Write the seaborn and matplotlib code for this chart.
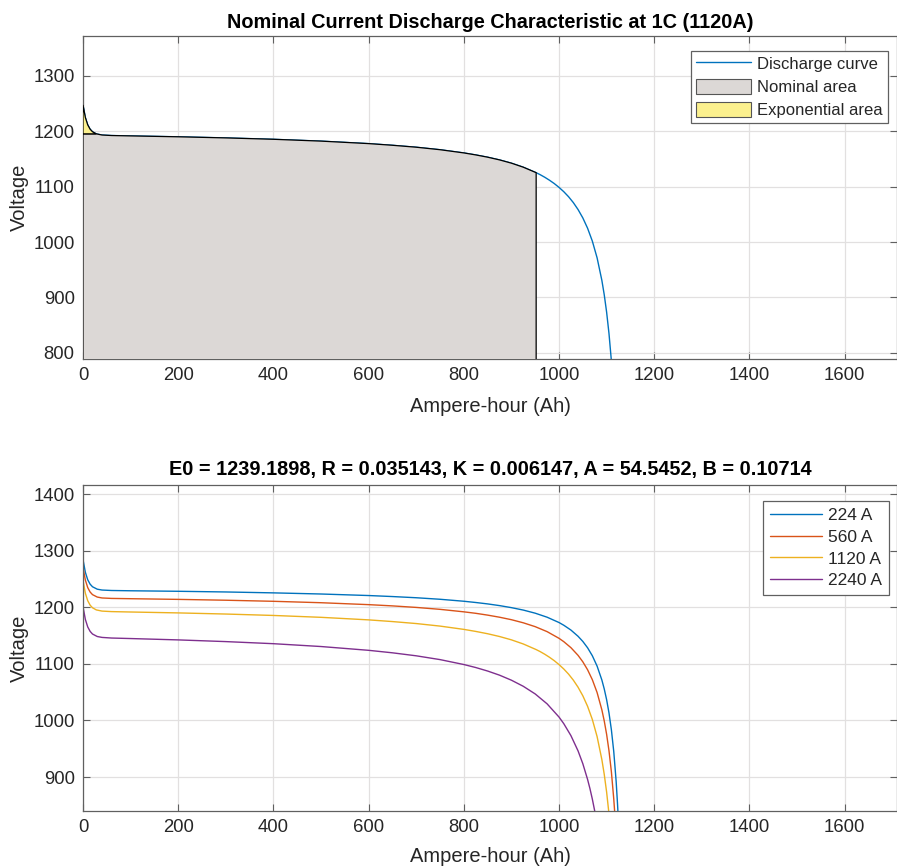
import numpy as np
import pandas as pd
import matplotlib
matplotlib.use("Agg")
import matplotlib.pyplot as plt
from matplotlib.lines import Line2D
from matplotlib.patches import Patch
import seaborn as sns

# ---------------- data ----------------
ah_224 = [0, 5, 10, 15, 20, 30, 40, 60, 100, 200, 300, 400, 500, 600, 650, 700, 750, 800, 825, 850,
          875, 900, 925, 950, 975, 1000, 1010, 1025, 1040, 1050, 1060, 1070, 1080, 1090, 1095, 1100,
          1105, 1110, 1115, 1120, 1123, 1124]
v_224 = [1284.5, 1261.8, 1248.5, 1240.8, 1236.2, 1231.9, 1230.4, 1229.6, 1229.1, 1228.2, 1227.0,
         1225.4, 1223.4, 1220.7, 1218.9, 1216.8, 1214.1, 1210.6, 1208.4, 1205.9, 1202.9, 1199.3,
         1195.0, 1189.5, 1182.4, 1173.0, 1168.2, 1159.7, 1148.7, 1139.6, 1128.4, 1114.3, 1096.0,
         1071.5, 1055.7, 1036.7, 1013.2, 983.6, 945.0, 892.6, 851.1, 834.9]

ah_560 = [0, 5, 10, 15, 20, 30, 40, 60, 100, 200, 300, 400, 500, 600, 650, 700, 750, 800, 825, 850,
          875, 900, 925, 950, 975, 1000, 1010, 1025, 1040, 1050, 1060, 1070, 1080, 1090, 1095, 1100,
          1105, 1110, 1115, 1117]
v_560 = [1270.6, 1248.0, 1234.7, 1226.9, 1222.3, 1218.0, 1216.4, 1215.6, 1215.1, 1213.9, 1212.4,
         1210.5, 1208.0, 1204.6, 1202.4, 1199.7, 1196.3, 1191.9, 1189.3, 1186.1, 1182.4, 1178.0,
         1172.5, 1165.7, 1156.9, 1145.1, 1139.2, 1128.6, 1115.0, 1103.6, 1089.6, 1072.0, 1049.3,
         1018.8, 999.2, 975.5, 946.3, 909.4, 861.3, 837.8]

ah_1120 = [0, 5, 10, 15, 20, 28, 40, 60, 100, 200, 300, 400, 500, 600, 650, 700, 750, 800, 825, 850,
           875, 900, 925, 952, 960, 970, 980, 990, 1000, 1010, 1020, 1030, 1040, 1050, 1060, 1070,
           1080, 1090, 1095, 1100, 1105, 1110]
v_1120 = [1247.5, 1224.8, 1211.5, 1203.7, 1199.1, 1195.3, 1193.2, 1192.3, 1191.6, 1190.0, 1188.0,
          1185.5, 1182.2, 1177.7, 1174.7, 1171.2, 1166.7, 1160.9, 1157.3, 1153.2, 1148.3, 1142.4,
          1135.1, 1125.2, 1121.8, 1117.0, 1111.6, 1105.6, 1098.7, 1090.9, 1081.9, 1071.3, 1058.7,
          1043.6, 1025.0, 1001.7, 971.5, 930.9, 904.9, 873.5, 834.7, 785.7]

ah_2240 = [0, 5, 10, 15, 20, 30, 40, 60, 100, 200, 300, 400, 500, 600, 650, 700, 750, 800, 825, 850,
           875, 900, 925, 950, 975, 1000, 1010, 1025, 1040, 1050, 1060, 1065, 1070, 1075, 1080]
v_2240 = [1201.2, 1178.5, 1165.2, 1157.4, 1152.7, 1148.3, 1146.7, 1145.6, 1144.7, 1142.3, 1139.3,
          1135.6, 1130.6, 1123.9, 1119.5, 1114.2, 1107.5, 1098.8, 1093.5, 1087.3, 1080.0, 1071.1,
          1060.3, 1046.8, 1029.3, 1006.0, 994.3, 973.2, 946.2, 923.6, 895.8, 879.5, 861.0, 840.0,
          815.9]

currents = ["224 A", "560 A", "1120 A", "2240 A"]
q_exp = 28      # end of exponential zone (Ah)
q_nom = 952     # end of nominal zone (Ah)

top_title = "Nominal Current Discharge Characteristic at 1C (1120A)"
bot_title = "E0 = 1239.1898, R = 0.035143, K = 0.006147, A = 54.5452, B = 0.10714"
xticks = [0, 200, 400, 600, 800, 1000, 1200, 1400, 1600]
top_yticks = [800, 900, 1000, 1100, 1200, 1300]
bot_yticks = [900, 1000, 1100, 1200, 1300, 1400]

# ---------------- style ----------------
sns.set_theme(style="whitegrid")
plt.rcParams["font.family"] = ["Liberation Sans", "DejaVu Sans"]
TXT = "#262626"
SPINE = "#606060"
GRID = "#e2e0e0"
colors = ["#0072BD", "#D95319", "#EDB120", "#7E2F8E"]
NOM_C = "#dcd8d6"
EXP_C = "#fbf08e"
plt.rcParams.update({
    "axes.edgecolor": SPINE, "axes.linewidth": 0.9,
    "xtick.color": SPINE, "ytick.color": SPINE,
    "xtick.labelcolor": TXT, "ytick.labelcolor": TXT,
    "xtick.direction": "in", "ytick.direction": "in",
    "xtick.major.size": 5, "ytick.major.size": 5,
    "xtick.major.width": 0.8, "ytick.major.width": 0.8,
    "xtick.top": True, "ytick.right": True,
    "xtick.bottom": True, "ytick.left": True,
    "grid.color": GRID, "grid.linewidth": 0.9,
})

fig = plt.figure(figsize=(8.97, 8.67), dpi=100)
ax1 = fig.add_axes([0.0925, 0.586, 0.9075, 0.3725])
ax2 = fig.add_axes([0.0925, 0.0646, 0.9075, 0.376])

XMAX = 1710

# ---------------- top plot ----------------
df_top = pd.DataFrame({"Ah": ah_1120, "V": v_1120})
sns.lineplot(data=df_top, x="Ah", y="V", ax=ax1, color=colors[0], lw=1.0,
             sort=False, estimator=None, zorder=2)
y1_lo, y1_hi = 789, 1372
ah_a = np.array(ah_1120, dtype=float)
v_a = np.array(v_1120, dtype=float)
v_exp = v_a[ah_a == q_exp][0]
m_exp = ah_a <= q_exp
m_nom = (ah_a >= q_exp) & (ah_a <= q_nom)
# nominal area polygon
nx = np.concatenate([[0, 0], ah_a[m_nom], [q_nom]])
ny = np.concatenate([[y1_lo - 50, v_exp], v_a[m_nom], [y1_lo - 50]])
ax1.fill(nx, ny, facecolor=NOM_C, edgecolor="black", lw=0.9, zorder=3)
# exponential area polygon
ex = np.concatenate([ah_a[m_exp], [0]])
ey = np.concatenate([v_a[m_exp], [v_exp]])
ax1.fill(ex, ey, facecolor=EXP_C, edgecolor="black", lw=0.9, zorder=3)

ax1.set_xlim(0, XMAX)
ax1.set_ylim(y1_lo, y1_hi)
ax1.set_xticks(xticks)
ax1.set_yticks(top_yticks)
ax1.set_title(top_title, fontsize=14.3, fontweight="bold", color="black", pad=6)
ax1.set_xlabel("Ampere-hour (Ah)", fontsize=14.5, color=TXT, labelpad=9)
ax1.set_ylabel("Voltage", fontsize=14.5, color=TXT, labelpad=3)
handles = [Line2D([], [], color=colors[0], lw=1.0),
           Patch(facecolor=NOM_C, edgecolor="#555555", lw=0.8),
           Patch(facecolor=EXP_C, edgecolor="#555555", lw=0.8)]
leg1 = ax1.legend(handles, ["Discharge curve", "Nominal area", "Exponential area"],
                  loc="upper right", bbox_to_anchor=(0.989, 0.954), borderaxespad=0,
                  fontsize=12, handlelength=3.3, handleheight=1.0, handletextpad=0.4,
                  labelspacing=0.42, borderpad=0.3, fancybox=False, framealpha=1,
                  edgecolor=SPINE)
leg1.get_frame().set_linewidth(0.9)

# ---------------- bottom plot ----------------
frames = []
for lab, xs, ys in zip(currents, [ah_224, ah_560, ah_1120, ah_2240],
                       [v_224, v_560, v_1120, v_2240]):
    frames.append(pd.DataFrame({"Ah": xs, "V": ys, "I": lab}))
df_bot = pd.concat(frames, ignore_index=True)
sns.lineplot(data=df_bot, x="Ah", y="V", hue="I", palette=colors, ax=ax2, lw=1.0,
             sort=False, estimator=None, legend=False)
ax2.set_xlim(0, XMAX)
ax2.set_ylim(840, 1416)
ax2.set_xticks(xticks)
ax2.set_yticks(bot_yticks)
ax2.set_title(bot_title, fontsize=14.3, fontweight="bold", color="black", pad=7)
ax2.set_xlabel("Ampere-hour (Ah)", fontsize=14.5, color=TXT, labelpad=8)
ax2.set_ylabel("Voltage", fontsize=14.5, color=TXT, labelpad=3)
h2 = [Line2D([], [], color=c, lw=1.0) for c in colors]
leg2 = ax2.legend(h2, currents, loc="upper right", bbox_to_anchor=(0.990, 0.951),
                  borderaxespad=0, fontsize=12.5, handlelength=3.0, handletextpad=0.35,
                  labelspacing=0.38, borderpad=0.4, fancybox=False, framealpha=1,
                  edgecolor=SPINE)
leg2.get_frame().set_linewidth(0.9)

for ax in (ax1, ax2):
    ax.tick_params(labelsize=13.3, pad=6)
    ax.grid(True)
    for s in ax.spines.values():
        s.set_visible(True)
        s.set_color(SPINE)

fig.savefig("out.png", dpi=100, facecolor="white")
